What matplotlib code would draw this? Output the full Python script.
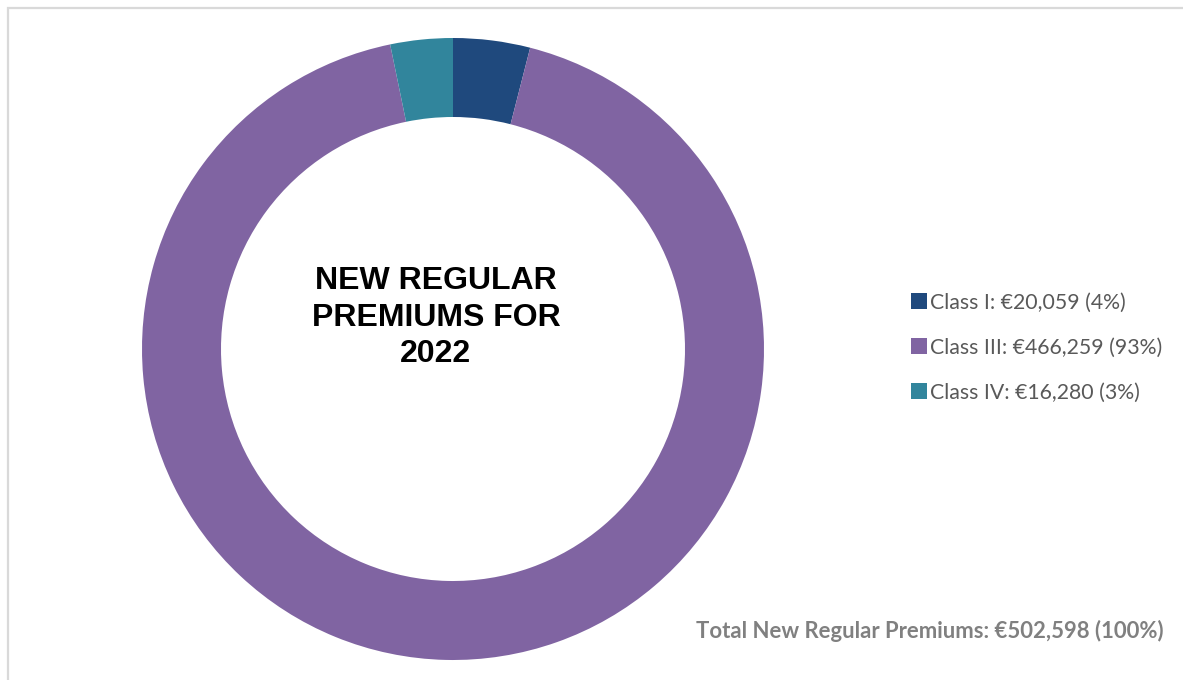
"""Donut chart: new regular premiums for 2022 by class."""
import matplotlib.pyplot as plt
from matplotlib.patches import Rectangle

W, H = 1183, 680

classes = ["Class I", "Class III", "Class IV"]
premiums = [20059, 466259, 16280]
shares = [4, 93, 3]
colors = ["#1f497d", "#8064a2", "#31859c"]
total = 502598

plt.rcParams["font.family"] = ["Lato", "DejaVu Sans"]

fig = plt.figure(figsize=(W / 100, H / 100), dpi=100)

# light grey frame, cut off at right and bottom like the source
fig.add_artist(Rectangle((8 / W, -0.1), 1.2, (H - 8) / H + 0.1,
                         transform=fig.transFigure, fill=False,
                         edgecolor="#d9d9d9", linewidth=1.6))

cx, cy, r = 453, 349, 311
ax = fig.add_axes([(cx - r) / W, (H - cy - r) / H, 2 * r / W, 2 * r / H])
wedges, _ = ax.pie(premiums, colors=colors, startangle=90, counterclock=False,
                   radius=1.0, wedgeprops=dict(width=0.254, linewidth=0))
ax.set_xlim(-1, 1)
ax.set_ylim(-1, 1)
ax.set_aspect("equal")
ax.axis("off")

ax.text(-0.055, 0.10, "NEW REGULAR\nPREMIUMS FOR\n2022", ha="center",
        va="center", fontsize=23, fontweight="bold", family="Liberation Sans",
        color="black", linespacing=1.28)

labels = [f"{c}: €{v:,} ({s}%)" for c, v, s in zip(classes, premiums, shares)]
fig.legend(wedges, labels, loc="center left",
           bbox_to_anchor=(900 / W, 1 - 347.5 / H), frameon=False,
           fontsize=15.3, labelcolor="#595959", handlelength=0.75,
           handleheight=0.75, handletextpad=0.18, labelspacing=1.17,
           borderpad=0)

fig.text(930 / W, 1 - 631 / H,
         f"Total New Regular Premiums: €{total:,} (100%)",
         ha="center", va="center", fontsize=15.9, fontweight="bold",
         color="#808080")

fig.savefig("out.png", dpi=100)
